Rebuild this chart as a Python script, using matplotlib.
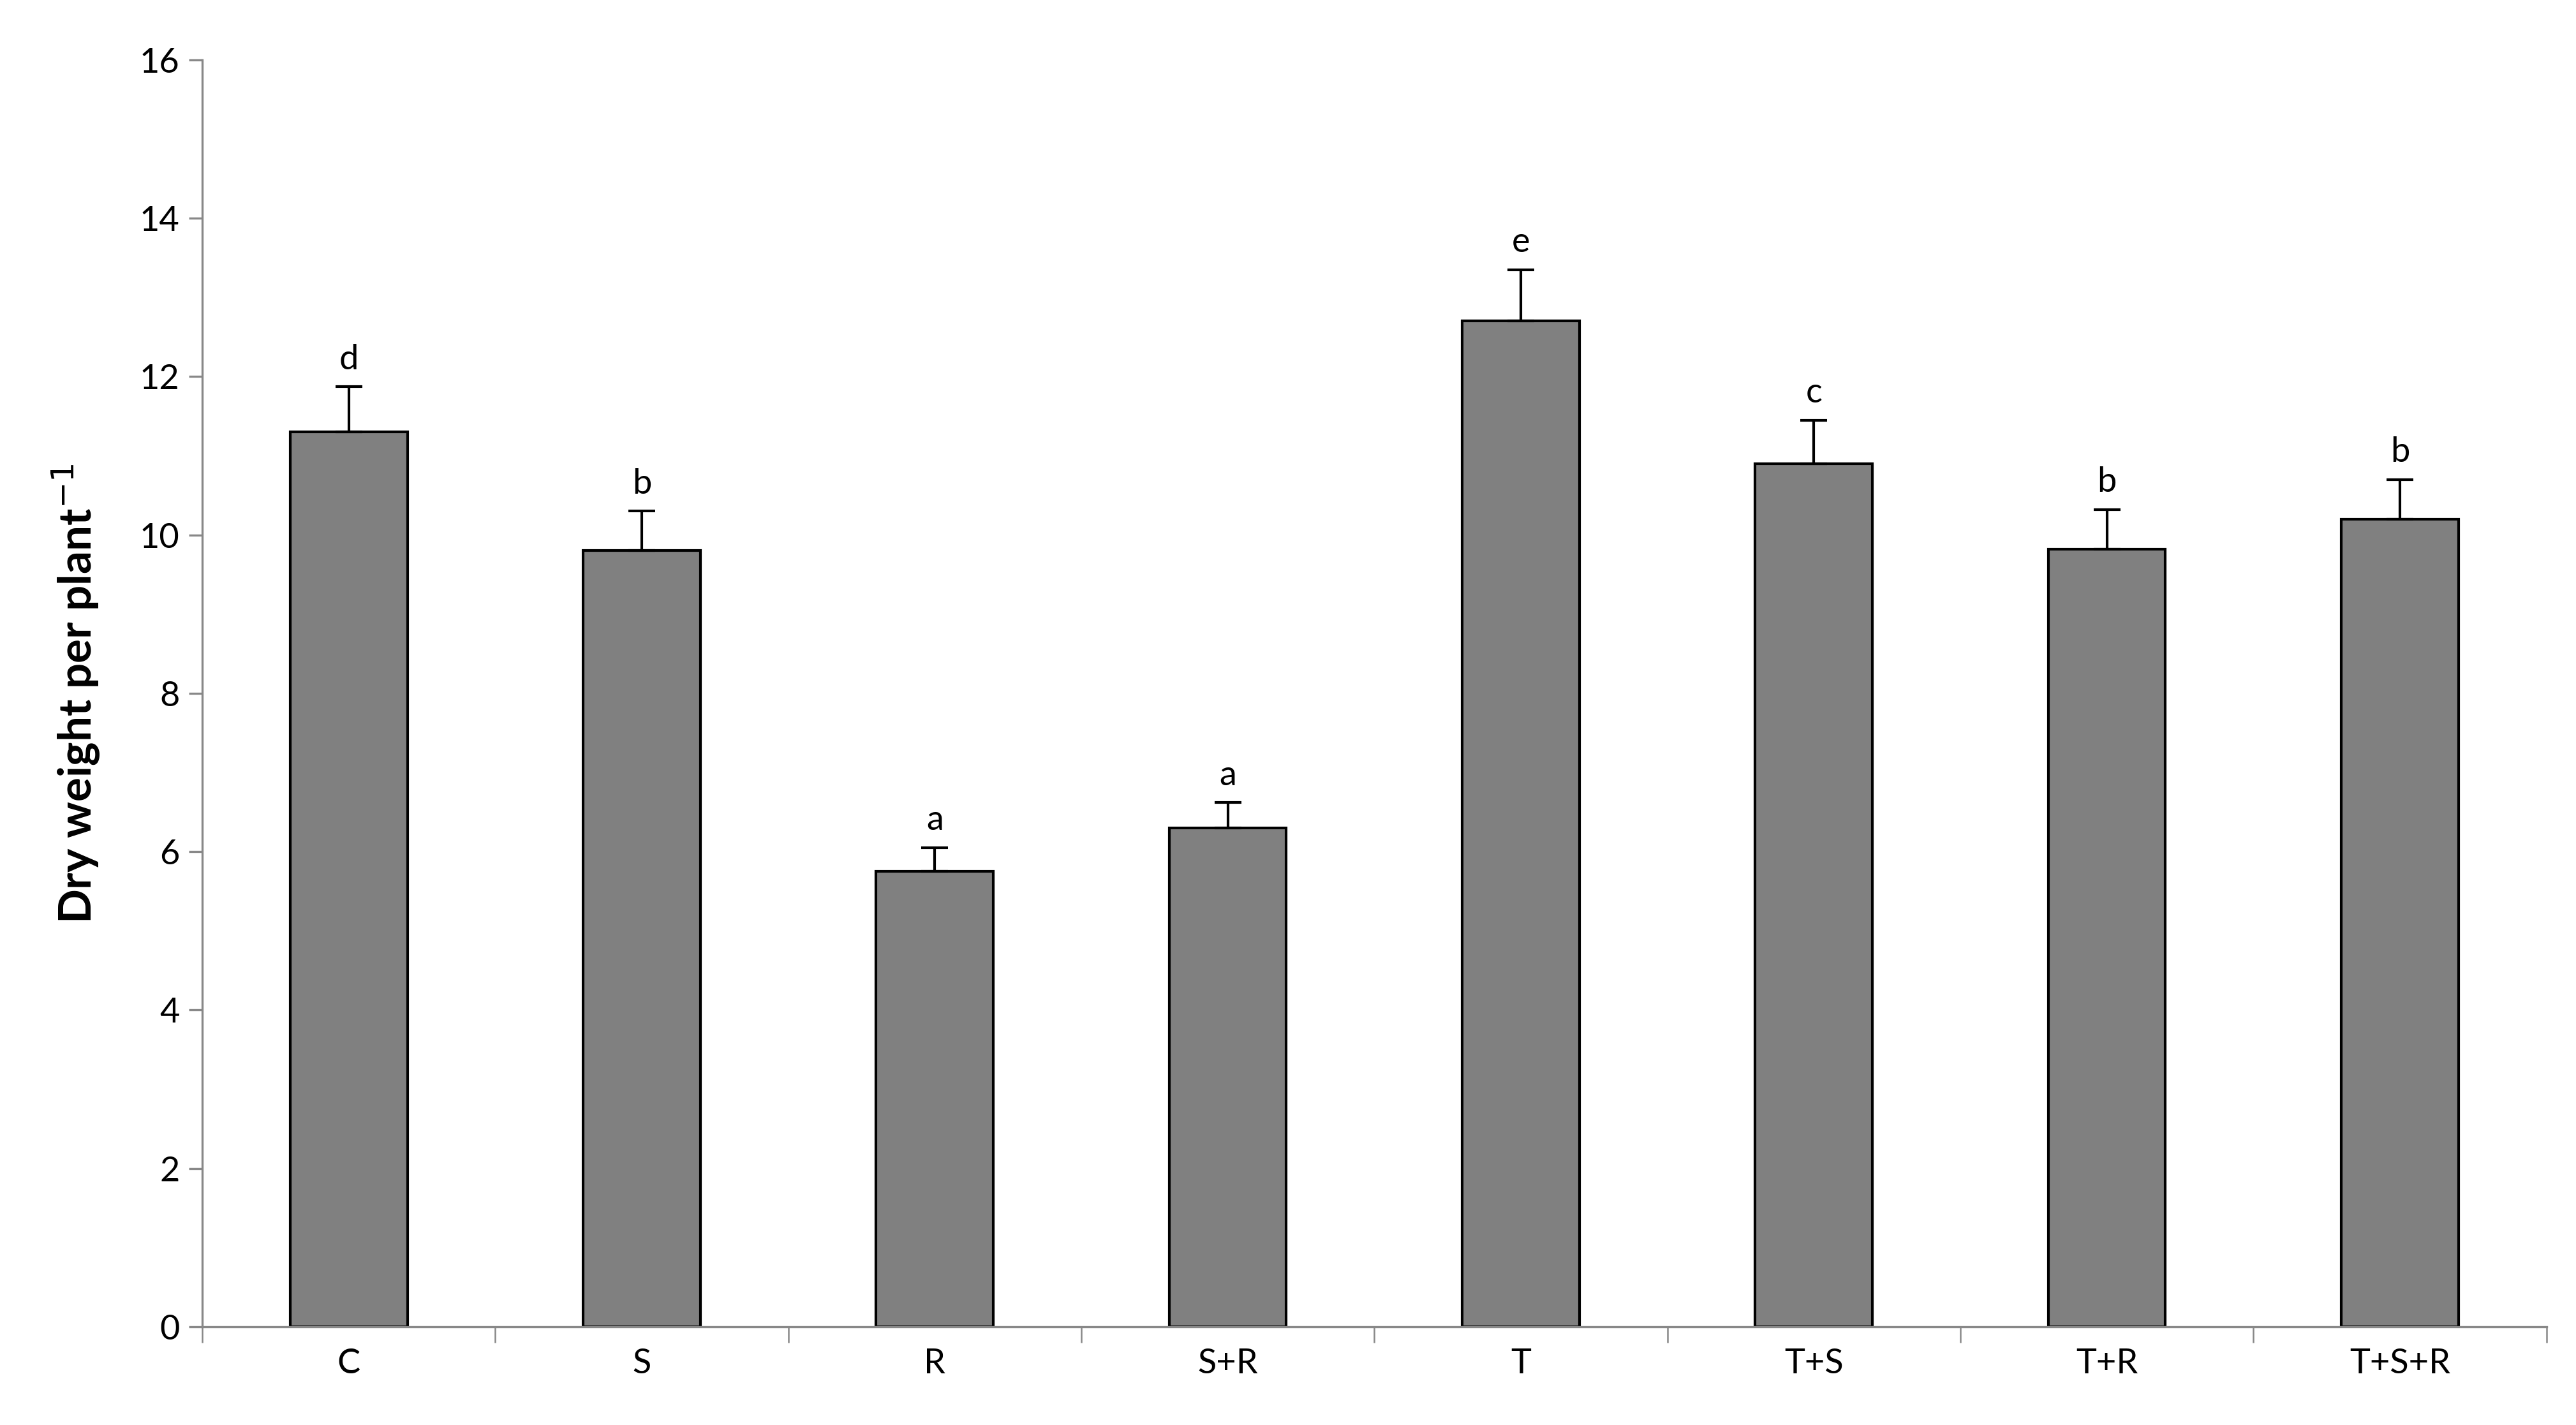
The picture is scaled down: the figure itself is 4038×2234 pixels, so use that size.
import matplotlib

matplotlib.use("Agg")
import matplotlib.pyplot as plt
import numpy as np

categories = ["C", "S", "R", "S+R", "T", "T+S", "T+R", "T+S+R"]
values = [11.3, 9.8, 5.75, 6.3, 12.7, 10.9, 9.82, 10.2]
errors = [0.57, 0.5, 0.3, 0.32, 0.65, 0.55, 0.5, 0.5]
letters = ["d", "b", "a", "a", "e", "c", "b", "b"]

plt.rcParams["font.family"] = ["Lato", "DejaVu Sans"]

fig = plt.figure(figsize=(13.46, 7.447), dpi=300)
ax = fig.add_axes([0.0785, 0.069, 0.91, 0.889])
x = np.arange(len(categories))
ax.bar(x, values, width=0.4, color="#808080", edgecolor="black", linewidth=1.0, zorder=2)
ax.errorbar(x, values, yerr=[np.zeros(len(errors)), errors], fmt="none",
            ecolor="black", elinewidth=1.0, capsize=5, capthick=1.0, zorder=3)
for xi, v, e, lab in zip(x, values, errors, letters):
    ax.text(xi, v + e + 0.15, lab, ha="center", va="bottom", fontsize=13)

ax.set_xlim(-0.5, len(categories) - 0.5)
ax.set_ylim(0, 16)
ax.set_yticks(range(0, 17, 2))
ax.set_xticks(x)
ax.set_xticklabels(categories, fontsize=13)
ax.set_xticks(np.arange(-0.5, len(categories)), minor=True)
ax.tick_params(axis="x", which="major", length=0, pad=8)
ax.tick_params(axis="x", which="minor", length=6, color="#888888")
ax.tick_params(axis="y", labelsize=13, length=5, color="#888888")
ax.set_ylabel("Dry weight per plant$^{-1}$", fontsize=17, fontweight="bold", labelpad=14)
for s in ["top", "right"]:
    ax.spines[s].set_visible(False)
for s in ["left", "bottom"]:
    ax.spines[s].set_color("#888888")

fig.savefig("out.png", dpi=300)
